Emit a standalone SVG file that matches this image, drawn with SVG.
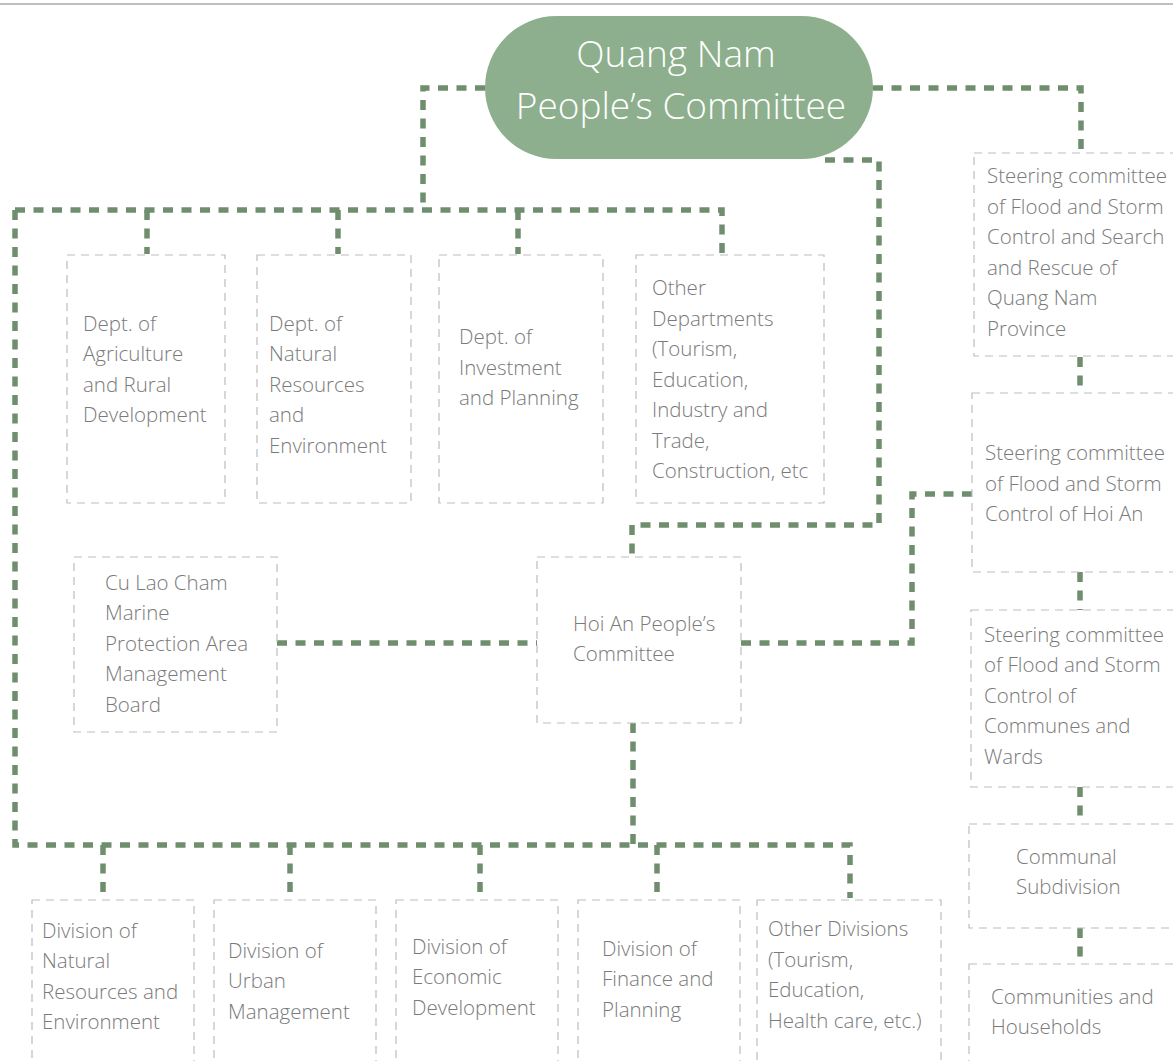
<svg xmlns="http://www.w3.org/2000/svg" width="1173" height="1061" viewBox="0 0 1173 1061">
<style>
.box{fill:#fff;stroke:#bdbdbd;stroke-width:1.2;stroke-dasharray:8 6}
.t{font-family:"Open Sans","Noto Sans","Liberation Sans",sans-serif;font-size:20.5px;fill:#7a7a7a;font-weight:300}
.con{fill:none;stroke:#6e8e6e;stroke-width:5.5;stroke-dasharray:10 8.5}
.ov{font-family:"Open Sans","Noto Sans","Liberation Sans",sans-serif;font-size:37px;fill:#fff;font-weight:300;text-anchor:middle}
</style>
<rect width="1173" height="1061" fill="#fff"/>
<line x1="0" y1="4" x2="1173" y2="4" stroke="#aaa" stroke-width="1.5"/>
<g id="connectors">
<polyline class="con" points="485,88 423,88 423,210"/>
<polyline class="con" points="15,210 722,210 722,254"/>
<line class="con" x1="147" y1="210" x2="147" y2="254"/>
<line class="con" x1="338" y1="210" x2="338" y2="254"/>
<line class="con" x1="518" y1="210" x2="518" y2="254"/>
<polyline class="con" points="15,210 15,845 850,845 850,898"/>
<line class="con" x1="103" y1="845" x2="103" y2="898"/>
<line class="con" x1="290" y1="845" x2="290" y2="898"/>
<line class="con" x1="480" y1="845" x2="480" y2="898"/>
<line class="con" x1="657" y1="845" x2="657" y2="898"/>
<line class="con" x1="633" y1="723" x2="633" y2="845"/>
<polyline class="con" points="825,160 879,160 879,525 632,525 632,557"/>
<polyline class="con" points="873,88 1081,88 1081,153"/>
<line class="con" x1="1080" y1="357" x2="1080" y2="393"/>
<line class="con" x1="1080" y1="572" x2="1080" y2="610"/>
<line class="con" x1="1080" y1="787" x2="1080" y2="824"/>
<line class="con" x1="1080" y1="928" x2="1080" y2="964"/>
<polyline class="con" points="741,643 912,643 912,494 972,494"/>
<line class="con" x1="277" y1="643" x2="537" y2="643"/>
</g>
<g id="quang-nam">
<rect x="485" y="16" width="388" height="143" rx="71.5" fill="#8daf8e"/>
<text class="ov" x="676" y="67">Quang Nam</text>
<text class="ov" x="681" y="119">People’s Committee</text>
</g>
<g id="dept-agri">
<rect class="box" x="67" y="255" width="158" height="248"/>
<text class="t" x="83" y="330.5">Dept. of</text>
<text class="t" x="83" y="361">Agriculture</text>
<text class="t" x="83" y="391.5">and Rural</text>
<text class="t" x="83" y="422">Development</text>
</g>
<g id="dept-natural">
<rect class="box" x="257" y="255" width="154" height="248"/>
<text class="t" x="269" y="330.5">Dept. of</text>
<text class="t" x="269" y="361">Natural</text>
<text class="t" x="269" y="391.5">Resources</text>
<text class="t" x="269" y="422">and</text>
<text class="t" x="269" y="452.5">Environment</text>
</g>
<g id="dept-invest">
<rect class="box" x="439" y="255" width="164" height="248"/>
<text class="t" x="459" y="344">Dept. of</text>
<text class="t" x="459" y="374.5">Investment</text>
<text class="t" x="459" y="405">and Planning</text>
</g>
<g id="dept-other">
<rect class="box" x="636" y="255" width="188" height="248"/>
<text class="t" x="652" y="295">Other</text>
<text class="t" x="652" y="325.5">Departments</text>
<text class="t" x="652" y="356">(Tourism,</text>
<text class="t" x="652" y="386.5">Education,</text>
<text class="t" x="652" y="417">Industry and</text>
<text class="t" x="652" y="447.5">Trade,</text>
<text class="t" x="652" y="478">Construction, etc</text>
</g>
<g id="cu-lao-cham">
<rect class="box" x="74" y="557" width="203" height="175"/>
<text class="t" x="105" y="589.5">Cu Lao Cham</text>
<text class="t" x="105" y="620">Marine</text>
<text class="t" x="105" y="650.5">Protection Area</text>
<text class="t" x="105" y="681">Management</text>
<text class="t" x="105" y="711.5">Board</text>
</g>
<g id="hoi-an">
<rect class="box" x="537" y="557" width="204" height="166"/>
<text class="t" x="573" y="630.5">Hoi An People’s</text>
<text class="t" x="573" y="661">Committee</text>
</g>
<g id="steer-province">
<rect class="box" x="974" y="153" width="230" height="203"/>
<text class="t" x="987" y="183">Steering committee</text>
<text class="t" x="987" y="213.5">of Flood and Storm</text>
<text class="t" x="987" y="244">Control and Search</text>
<text class="t" x="987" y="274.5">and Rescue of</text>
<text class="t" x="987" y="305">Quang Nam</text>
<text class="t" x="987" y="335.5">Province</text>
</g>
<g id="steer-hoian">
<rect class="box" x="972" y="393" width="230" height="179"/>
<text class="t" x="985" y="460">Steering committee</text>
<text class="t" x="985" y="490.5">of Flood and Storm</text>
<text class="t" x="985" y="521">Control of Hoi An</text>
</g>
<g id="steer-communes">
<rect class="box" x="971" y="610" width="230" height="177"/>
<text class="t" x="984" y="641.5">Steering committee</text>
<text class="t" x="984" y="672">of Flood and Storm</text>
<text class="t" x="984" y="702.5">Control of</text>
<text class="t" x="984" y="733">Communes and</text>
<text class="t" x="984" y="763.5">Wards</text>
</g>
<g id="communal">
<rect class="box" x="969" y="824" width="230" height="104"/>
<text class="t" x="1016" y="863.5">Communal</text>
<text class="t" x="1016" y="894">Subdivision</text>
</g>
<g id="communities">
<rect class="box" x="969" y="964" width="230" height="130"/>
<text class="t" x="991" y="1003.5">Communities and</text>
<text class="t" x="991" y="1034">Households</text>
</g>
<g id="div-natural">
<rect class="box" x="32" y="900" width="162" height="190"/>
<text class="t" x="42" y="937.5">Division of</text>
<text class="t" x="42" y="968">Natural</text>
<text class="t" x="42" y="998.5">Resources and</text>
<text class="t" x="42" y="1029">Environment</text>
</g>
<g id="div-urban">
<rect class="box" x="214" y="900" width="162" height="190"/>
<text class="t" x="228" y="957.5">Division of</text>
<text class="t" x="228" y="988">Urban</text>
<text class="t" x="228" y="1018.5">Management</text>
</g>
<g id="div-economic">
<rect class="box" x="396" y="900" width="162" height="190"/>
<text class="t" x="412" y="953.5">Division of</text>
<text class="t" x="412" y="984">Economic</text>
<text class="t" x="412" y="1014.5">Development</text>
</g>
<g id="div-finance">
<rect class="box" x="578" y="900" width="162" height="190"/>
<text class="t" x="602" y="955.5">Division of</text>
<text class="t" x="602" y="986">Finance and</text>
<text class="t" x="602" y="1016.5">Planning</text>
</g>
<g id="div-other">
<rect class="box" x="757" y="900" width="184" height="190"/>
<text class="t" x="768" y="936">Other Divisions</text>
<text class="t" x="768" y="966.5">(Tourism,</text>
<text class="t" x="768" y="997">Education,</text>
<text class="t" x="768" y="1027.5">Health care, etc.)</text>
</g>
</svg>
